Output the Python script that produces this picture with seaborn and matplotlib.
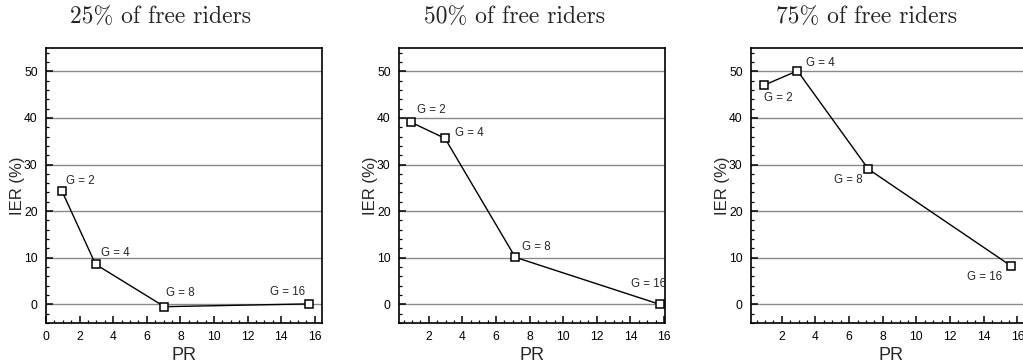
import matplotlib
matplotlib.use("Agg")
import matplotlib.pyplot as plt
from matplotlib.ticker import MultipleLocator
import seaborn as sns
import pandas as pd

# Group sizes and the resulting participation ratio (PR) per scenario
groups = ["G = 2", "G = 4", "G = 8", "G = 16"]
pr_25 = [0.95, 2.95, 7.05, 15.65]
pr_50 = [0.93, 2.97, 7.15, 15.75]
pr_75 = [0.93, 2.93, 7.15, 15.6]

# IER (%) for 25%, 50% and 75% of free riders
ier_25 = [24.3, 8.6, -0.5, 0.1]
ier_50 = [39.1, 35.6, 10.1, 0.0]
ier_75 = [47.0, 50.1, 29.0, 8.3]

titles = ["25% of free riders", "50% of free riders", "75% of free riders"]

# Label offsets (pixels) relative to each marker
offsets_25 = [(18, 10), (20, 11), (16, 14), (-21, 12)]
offsets_50 = [(21, 12), (24, 5), (21, 10), (-11, 20)]
offsets_75 = [(15, -13), (23, 8), (-20, -11), (-26, -11)]

sns.set_style("white")
plt.rcParams["font.family"] = ["Liberation Sans", "DejaVu Sans"]

W, H = 1023, 362
fig = plt.figure(figsize=(W / 100, H / 100), dpi=100)

# axes boxes in pixels: left, right, top, bottom
boxes = [(46, 322, 48, 323), (399, 665, 48, 323), (751, 1030, 48, 323)]
xlims = [(0.0, 16.43), (0.23, 16.06), (0.17, 16.75)]
title_x = [161, 514, 866]

panels = [(pr_25, ier_25, offsets_25), (pr_50, ier_50, offsets_50), (pr_75, ier_75, offsets_75)]

for i, ((pr, ier, offs), (l, r, t, b)) in enumerate(zip(panels, boxes)):
    ax = fig.add_axes([l / W, (H - b) / H, (r - l) / W, (b - t) / H])
    df = pd.DataFrame({"PR": pr, "IER": ier, "G": groups})
    for y in range(0, 60, 10):
        ax.axhline(y, color="#8a8a8a", lw=1.0, zorder=0)
    sns.lineplot(data=df, x="PR", y="IER", ax=ax, color="black", lw=1.0,
                 marker="s", markersize=5.5, markerfacecolor="white",
                 markeredgecolor="black", markeredgewidth=1.1, sort=False,
                 zorder=3)
    for xv, yv, g, (dx, dy) in zip(pr, ier, groups, offs):
        ax.annotate(g, (xv, yv), xytext=(dx, dy), textcoords="offset pixels",
                    ha="center", va="center", fontsize=8.3)
    ax.set_xlim(*xlims[i])
    ax.set_ylim(-4, 55)
    ax.xaxis.set_major_locator(MultipleLocator(2))
    ax.xaxis.set_minor_locator(MultipleLocator(0.5))
    ax.yaxis.set_major_locator(MultipleLocator(10))
    ax.yaxis.set_minor_locator(MultipleLocator(2))
    ax.tick_params(which="both", direction="in", top=False, right=False,
                   bottom=True, left=True, labelsize=8.7, pad=6, colors="black")
    ax.tick_params(which="major", length=5, width=1.1)
    ax.tick_params(which="minor", length=2.5, width=0.9)
    for s in ax.spines.values():
        s.set_color("black")
        s.set_linewidth(1.2)
    ax.set_xlabel("PR", fontsize=13, labelpad=2.5)
    ax.set_ylabel("IER (%)", fontsize=12, labelpad=-0.5)
    fig.text(title_x[i] / W, 1 - 17 / H, titles[i], ha="center", va="center",
             fontsize=17, family="cmr10")

fig.savefig("out.png", dpi=100)
